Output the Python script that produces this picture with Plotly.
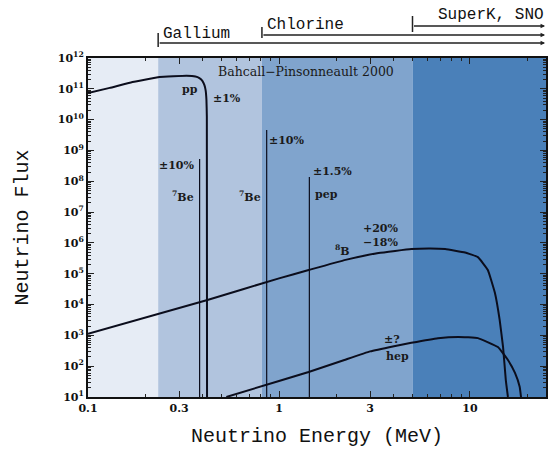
import numpy as np
import plotly.graph_objects as go

# ---------------- data ----------------
pp_E = [0.1, 0.13, 0.171, 0.237, 0.328, 0.365, 0.383, 0.397, 0.407, 0.413, 0.417, 0.419, 0.42]
pp_F = [10**10.86, 10**11.03, 10**11.22, 10**11.38, 10**11.42, 10**11.40, 10**11.35, 10**11.26,
        10**11.12, 10**10.95, 10**10.64, 10**10.1, 10**1.0]

b8_E = [0.1, 0.422, 1.0, 1.43, 2.23, 3.32, 4.93, 6.2, 7.41, 9.42, 11.0, 12.4, 13.5, 14.3, 14.9, 15.4, 15.8]
b8_F = [10**3.05, 10**4.15, 10**4.85, 10**5.12, 10**5.45, 10**5.67, 10**5.80, 10**5.82, 10**5.80, 10**5.69,
        10**5.54, 10**5.12, 10**4.38, 10**3.50, 10**2.62, 10**1.55, 10**1.0]

hep_E = [0.53, 1.0, 1.43, 2.2, 3.0, 4.0, 4.93, 6.8, 8.7, 11.0, 14.0, 15.8, 17.2, 18.2, 18.5]
hep_F = [10**1.0, 10**1.52, 10**1.81, 10**2.2, 10**2.48, 10**2.65, 10**2.76, 10**2.91, 10**2.95, 10**2.91,
         10**2.62, 10**2.20, 10**1.78, 10**1.33, 10**1.0]

line_E = [0.384, 0.862, 1.442]          # 7Be, 7Be, pep
line_top = [10**8.72, 10**9.66, 10**8.14]

thresholds = [0.233, 0.814, 5.0]        # Gallium, Chlorine, SuperK/SNO
threshold_names = ["Gallium", "Chlorine", "SuperK, SNO"]

x_tick_vals = [0.1, 0.3, 1, 3, 10]
x_tick_text = ["0.1", "0.3", "1", "3", "10"]
y_exps = list(range(1, 13))

XMIN, XMAX = 0.1, 25.0
YMIN, YMAX = 10**1, 10**12

# ---------------- figure ----------------
CURVE = "#0b0d1c"
band_colors = ["#e6ecf5", "#b1c4de", "#80a4cd", "#4a80b9"]
SERIF = "DejaVu Serif"
MONO = "Liberation Mono"

fig = go.Figure()

for E, F in [(pp_E, pp_F), (b8_E, b8_F), (hep_E, hep_F)]:
    fig.add_trace(go.Scatter(x=E, y=F, mode="lines",
                             line=dict(color=CURVE, width=2, shape="spline", smoothing=0.3),
                             showlegend=False, hoverinfo="skip"))

for E, top in zip(line_E, line_top):
    fig.add_trace(go.Scatter(x=[E, E], y=[YMIN, top], mode="lines", line=dict(color=CURVE, width=1.2),
                             showlegend=False, hoverinfo="skip"))

# background bands
edges = [XMIN] + thresholds + [XMAX]
shapes = []
for i in range(4):
    shapes.append(dict(type="rect", xref="x", yref="paper", x0=edges[i], x1=edges[i + 1], y0=0, y1=1,
                       fillcolor=band_colors[i], line=dict(width=0), layer="below"))

# top threshold brackets
bracket_y = [1.0442, 1.0678, 1.0944]
tick_span = [(1.0324, 1.0737), (1.059, 1.0914), (1.0767, 1.1239)]
label_y = [1.0708, 1.0973, 1.1268]
annotations = []
for t, yb, (ya, yb2) in zip(thresholds, bracket_y, tick_span):
    shapes.append(dict(type="line", xref="x", yref="paper", x0=t, x1=t, y0=ya, y1=yb2,
                       line=dict(color="#222", width=1.5)))
    annotations.append(dict(x=np.log10(XMAX) - 0.005, y=yb, xref="x", yref="paper",
                            ax=np.log10(t), ay=0, axref="x", ayref="pixel",
                            text="", showarrow=True, arrowhead=2, arrowsize=0.6, arrowwidth=1.5,
                            arrowcolor="#222"))

label_font = dict(family=MONO, size=16, color="#111")
annotations.append(dict(x=np.log10(thresholds[0]), y=label_y[0], xref="x", yref="paper", text=threshold_names[0],
                        showarrow=False, xanchor="left", yanchor="middle", xshift=3, font=label_font))
annotations.append(dict(x=np.log10(thresholds[1]), y=label_y[1], xref="x", yref="paper", text=threshold_names[1],
                        showarrow=False, xanchor="left", yanchor="middle", xshift=3, font=label_font))
annotations.append(dict(x=np.log10(XMAX), y=label_y[2], xref="x", yref="paper", text=threshold_names[2],
                        showarrow=False, xanchor="right", yanchor="middle", xshift=0, font=label_font))

# in-plot labels (E, flux, text)
txt_font = dict(family=SERIF, size=11, color="#1a1a1a", weight="bold")
labels = [
    (10**-0.4635, 10**10.99, "pp"),
    (10**-0.271, 10**10.70, "±1%"),
    (10**-0.536, 10**8.50, "±10%"),
    (10**-0.505, 10**7.49, "<sup>7</sup>Be"),
    (10**-0.151, 10**7.49, "<sup>7</sup>Be"),
    (10**0.0417, 10**9.31, "±10%"),
    (10**0.281, 10**8.33, "±1.5%"),
    (10**0.25, 10**7.555, "pep"),
    (10**0.536, 10**6.48, "+20%"),
    (10**0.536, 10**6.0, "−18%"),
    (10**0.333, 10**5.74, "<sup>8</sup>B"),
    (10**0.594, 10**2.85, "±?"),
    (10**0.620, 10**2.30, "hep"),
]
for E, F, t in labels:
    annotations.append(dict(x=np.log10(E), y=np.log10(F), xref="x", yref="y", text=t, showarrow=False,
                            font=txt_font))
annotations.append(dict(x=0.1406, y=11.55, xref="x", yref="y", text="Bahcall−Pinsonneault 2000",
                        showarrow=False, font=dict(family=SERIF, size=12.5, color="#1a1a1a")))

x_minor = [m * 10**d for d in range(-1, 2) for m in range(2, 10) if XMIN < m * 10**d < XMAX and m != 3]
y_minor = [m * 10**d for d in range(1, 12) for m in range(2, 10)]

fig.update_layout(
    width=556, height=452,
    margin=dict(l=88, r=8, t=58, b=55),
    paper_bgcolor="white", plot_bgcolor="white",
    shapes=shapes, annotations=annotations,
    showlegend=False,
    xaxis=dict(type="log", range=[np.log10(XMIN), np.log10(XMAX)],
               tickvals=x_tick_vals, ticktext=x_tick_text, ticks="inside", ticklen=6, tickwidth=1.2,
               tickcolor="#222", showgrid=False, zeroline=False,
               showline=True, linecolor="#111", linewidth=2, mirror="ticks",
               minor=dict(tickvals=x_minor, ticks="inside", ticklen=3, tickcolor="#222", showgrid=False),
               tickfont=dict(family=SERIF, size=11, color="#111", weight="bold"),
               title=dict(text="Neutrino Energy (MeV)", font=dict(family=MONO, size=20, color="#111"), standoff=14)),
    yaxis=dict(type="log", range=[1, 12],
               tickvals=[10**e for e in y_exps], ticktext=["10<sup>%d</sup>" % e for e in y_exps],
               ticks="inside", ticklen=6, tickwidth=1.2, tickcolor="#222",
               showgrid=False, zeroline=False,
               showline=True, linecolor="#111", linewidth=2, mirror="ticks",
               minor=dict(tickvals=y_minor, ticks="inside", ticklen=3, tickcolor="#222", showgrid=False),
               tickfont=dict(family=SERIF, size=11, color="#111", weight="bold"),
               title=dict(text="Neutrino Flux", font=dict(family=MONO, size=20, color="#111"), standoff=24)),
)

fig.write_html("out.html")
